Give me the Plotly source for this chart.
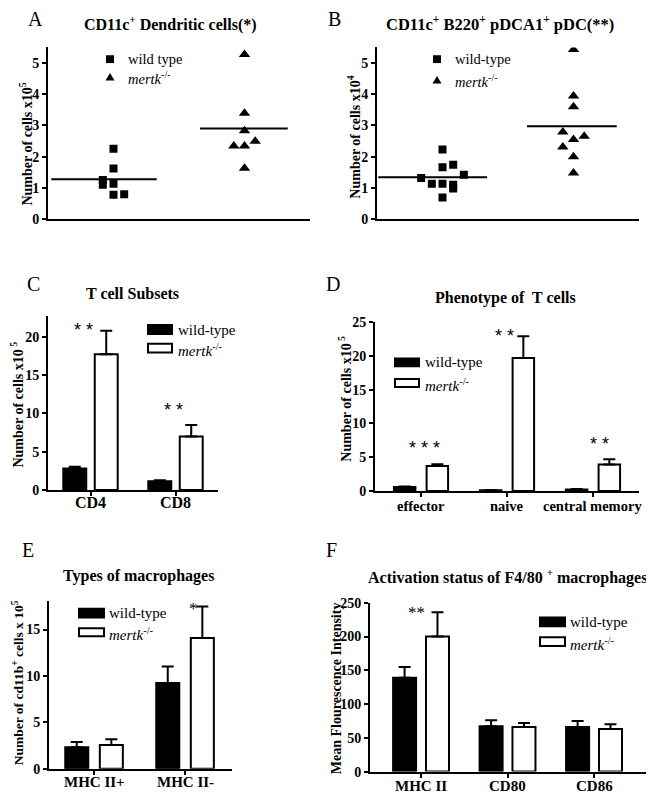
import numpy as np
import plotly.graph_objects as go

# ---------------- data ----------------
# Panel A: CD11c+ dendritic cells (x10^5)
a_wt = [2.25, 1.62, 1.25, 1.10, 1.13, 0.78, 0.80]
a_ko = [5.27, 3.39, 2.83, 2.34, 2.34, 2.49, 1.63]
# Panel B: pDC (x10^4)
b_wt = [2.23, 1.66, 1.74, 1.32, 1.13, 1.13, 1.10, 0.98, 1.42, 0.69]
b_ko = [5.43, 3.94, 3.60, 2.79, 2.55, 2.65, 2.31, 2.00, 1.48]
# Panel C: T cell subsets
c_cats = ["CD4", "CD8"]
c_wt = [2.8, 1.15]
c_wt_err = [0.25, 0.12]
c_ko = [17.75, 7.0]
c_ko_err = [3.05, 1.5]
# Panel D: phenotype of T cells
d_cats = ["effector", "naive", "central memory"]
d_wt = [0.6, 0.12, 0.22]
d_wt_err = [0.06, 0.03, 0.05]
d_ko = [3.7, 19.7, 3.9]
d_ko_err = [0.25, 3.2, 0.8]
# Panel E: types of macrophages
e_cats = ["MHC II+", "MHC II-"]
e_wt = [2.3, 9.25]
e_wt_err = [0.57, 1.78]
e_ko = [2.55, 14.1]
e_ko_err = [0.62, 3.4]
# Panel F: activation status
f_cats = ["MHC II", "CD80", "CD86"]
f_wt = [139, 67, 66]
f_wt_err = [16, 9, 9]
f_ko = [200, 66, 63]
f_ko_err = [36, 6, 7]

# jitter columns for scatter panels (layout only)
a_wt_col = [0, 0, -1, -1, 0, 0, 1]
a_ko_col = [0, 0, 0, -1, 0, 1, 0]
b_wt_col = [0, 0, 1, -2, -1, 0, 1, 1, 2, 0]
b_ko_col = [0, 0, 0, -1, 0, 1, -1, 0, 0]

W, H = 654, 803
PAGE = 8  # default body margin of the html page
SERIF = "Liberation Serif"
SANS = "Liberation Sans"
KO_LABEL = "<i>mertk</i><sup>-/-</sup>"


def px(x):
    return (x - PAGE) / W


def py(y):
    return 1 - (y - PAGE) / H


fig = go.Figure()
annotations = []
shapes = []


def text(x, y, s, size, bold=False, xanchor="center", family=SERIF, angle=0):
    annotations.append(dict(
        x=px(x), y=py(y), xref="paper", yref="paper", text=s, showarrow=False,
        xanchor=xanchor, yanchor="middle", textangle=angle,
        font=dict(family=family, size=size, color="black",
                  weight="bold" if bold else "normal")))


def yaxis_dict(dy, rng, dtick, anchor):
    return dict(domain=[py(dy[0]), py(dy[1])], range=rng, dtick=dtick, tick0=0,
                showline=True, linecolor="black", linewidth=2,
                ticks="outside", ticklen=4, tickwidth=2, tickcolor="black",
                showgrid=False, zeroline=False, anchor=anchor,
                tickfont=dict(family=SERIF, size=14, color="black", weight="bold"))


def xaxis_dict(dx, anchor, rng, show_ticks):
    d = dict(domain=[px(dx[0]), px(dx[1])], range=rng, anchor=anchor,
             showline=True, linecolor="black", linewidth=2, showgrid=False,
             zeroline=False, showticklabels=False)
    if show_ticks:
        d.update(ticks="outside", ticklen=4, tickwidth=2, tickcolor="black")
    else:
        d.update(ticks="")
    return d


layout_axes = {}


def scatter_panel(idx, wt, ko, wt_col, ko_col, wt_line, ko_line, dx, dy, yrng):
    xa = f"x{idx}" if idx > 1 else "x"
    ya = f"y{idx}" if idx > 1 else "y"
    step = 0.163
    fig.add_trace(go.Scatter(
        x=[1 + c * step for c in wt_col], y=wt, mode="markers",
        marker=dict(symbol="square", size=8, color="black"),
        xaxis=xa, yaxis=ya, showlegend=False))
    fig.add_trace(go.Scatter(
        x=[3 + c * step for c in ko_col], y=ko, mode="markers",
        marker=dict(symbol="triangle-up", size=10, color="black"),
        xaxis=xa, yaxis=ya, showlegend=False))
    for xs, vals in ((wt_line, wt), (ko_line, ko)):
        m = float(np.mean(vals))
        fig.add_trace(go.Scatter(x=xs, y=[m, m], mode="lines",
                                 line=dict(color="black", width=2),
                                 xaxis=xa, yaxis=ya, showlegend=False))
    key = "" if idx == 1 else str(idx)
    layout_axes["xaxis" + key] = xaxis_dict(dx, ya, [0, 4], False)
    layout_axes["yaxis" + key] = yaxis_dict(dy, yrng, 1, xa)


def bar_panel(idx, cats, wt, wt_err, ko, ko_err, dx, dy, xrng, yrng, dtick,
              width, off, label_dy, fsize):
    xa = f"x{idx}"
    ya = f"y{idx}"
    for vals, err, fill, o in ((wt, wt_err, "black", -off - width / 2),
                               (ko, ko_err, "white", off - width / 2)):
        fig.add_trace(go.Bar(
            x=cats, y=vals, width=width, offset=o,
            marker=dict(color=fill, line=dict(color="black", width=2)),
            error_y=dict(type="data", array=err, arrayminus=[0] * len(err),
                         symmetric=False, color="black", thickness=2, width=6),
            xaxis=xa, yaxis=ya, showlegend=False))
    layout_axes["xaxis" + str(idx)] = xaxis_dict(dx, ya, xrng, True)
    layout_axes["xaxis" + str(idx)]["type"] = "category"
    layout_axes["yaxis" + str(idx)] = yaxis_dict(dy, yrng, dtick, xa)
    # category labels, placed closer to the axis than Plotly's tick labels
    for i, c in enumerate(cats):
        annotations.append(dict(
            x=i, y=py(dy[0] + label_dy), xref=xa, yref="paper", text=c,
            showarrow=False, xanchor="center", yanchor="middle",
            font=dict(family=SERIF, size=fsize, color="black", weight="bold")))


scatter_panel(1, a_wt, a_ko, a_wt_col, a_ko_col, [0.05, 1.66], [2.32, 3.66],
              (48, 310), (216, 41), [0, 5.5])
scatter_panel(2, b_wt, b_ko, b_wt_col, b_ko_col, [0.02, 1.68], [2.29, 3.66],
              (377, 639), (216, 41), [0, 5.5])
bar_panel(3, c_cats, c_wt, c_wt_err, c_ko, c_ko_err, (48, 218), (492, 315),
          [-0.5, 1.5], [0, 22.7], 5, 0.27, 0.185, 13, 16)
bar_panel(4, d_cats, d_wt, d_wt_err, d_ko, d_ko_err, (375, 639), (493, 321),
          [-0.535, 2.535], [0, 25], 5, 0.25, 0.19, 15, 14.5)
bar_panel(5, e_cats, e_wt, e_wt_err, e_ko, e_ko_err, (49, 232), (776, 605),
          [-0.495, 1.516], [0, 18.1], 5, 0.253, 0.19, 14, 15)
bar_panel(6, f_cats, f_wt, f_wt_err, f_ko, f_ko_err, (370, 652), (779, 607),
          [-0.59, 2.67], [0, 250], 50, 0.266, 0.19, 15, 15)

# ---------- panel letters & titles ----------
for x, y, s in ((35, 12, "A"), (334, 12, "B"), (33, 282, "C"), (333, 282, "D"),
                (28, 553, "E"), (331, 553, "F")):
    text(x, y, s, 20)

text(170, 17, "CD11c<sup>+</sup> Dendritic cells(*)", 16, bold=True)
text(500, 17, "CD11c<sup>+</sup> B220<sup>+</sup> pDCA1<sup>+</sup> pDC(**)", 16.5, bold=True)
text(132, 292, "T cell Subsets", 16, bold=True)
text(505, 296, "Phenotype of  T cells", 16, bold=True)
text(138, 580, "Types of macrophages", 16, bold=True)
text(507, 580, "Activation status of F4/80 <sup>+</sup> macrophages", 16, bold=True)

# ---------- y axis titles ----------
text(26, 140, "Number of cells x10<sup>5</sup>", 14, bold=True, angle=-90)
text(354, 133, "Number of cells x10<sup>4</sup>", 14, bold=True, angle=-90)
text(17, 405, "Number of cells x10<sup> 5</sup>", 14, bold=True, angle=-90)
text(345, 399, "Number of cells x10<sup> 5</sup>", 14, bold=True, angle=-90)
text(18, 689, "Number of cd11b<sup>+</sup> cells x 10<sup>5</sup>", 13.5, bold=True, angle=-90)
text(336, 694, "Mean Flourescence Intensity", 14, bold=True, angle=-90)

# ---------- legends ----------
def sq_marker(cx, cy, s=8):
    shapes.append(dict(type="rect", xref="paper", yref="paper",
                       x0=px(cx - s / 2), x1=px(cx + s / 2), y0=py(cy + s / 2), y1=py(cy - s / 2),
                       fillcolor="black", line=dict(width=0)))


def tri_marker(cx, cy, s=9):
    path = (f"M {px(cx - s / 2)},{py(cy + s * 0.43)} L {px(cx + s / 2)},{py(cy + s * 0.43)} "
            f"L {px(cx)},{py(cy - s * 0.43)} Z")
    shapes.append(dict(type="path", xref="paper", yref="paper", path=path,
                       fillcolor="black", line=dict(width=0)))


def box(x0, x1, y0, y1, fill):
    shapes.append(dict(type="rect", xref="paper", yref="paper",
                       x0=px(x0 + 1), x1=px(x1 - 1), y0=py(y1 - 1), y1=py(y0 + 1),
                       fillcolor=fill, line=dict(color="black", width=2)))


sq_marker(110, 53)
tri_marker(110, 71)
text(126, 53, "wild type", 14.5, xanchor="left")
text(126, 72, KO_LABEL, 14.5, xanchor="left")

sq_marker(437, 53)
tri_marker(437, 74)
text(453, 53, "wild-type", 14.5, xanchor="left")
text(453, 75, KO_LABEL, 14.5, xanchor="left")

for (bx0, bx1, y_wt, y_ko, tx) in ((147, 173, (323, 334), (342, 353), 176),
                                   (394, 420, (357, 367), (378, 388), 423),
                                   (78, 105, (612, 623), (632, 642), 107),
                                   (539, 566, (621, 632), (641, 652), 568)):
    box(bx0, bx1, y_wt[0], y_wt[1], "black")
    box(bx0, bx1, y_ko[0], y_ko[1], "white")
    text(tx, (y_wt[0] + y_wt[1]) / 2, "wild-type", 15, xanchor="left")
    text(tx, (y_ko[0] + y_ko[1]) / 2 + 2, KO_LABEL, 15, xanchor="left")


# ---------- significance stars ----------
def star(xa, ya, cat_x, y, s, family=SANS, size=18):
    annotations.append(dict(x=cat_x, y=y, xref=xa, yref=ya, text=s, showarrow=False,
                            xanchor="center", yanchor="middle",
                            font=dict(family=family, size=size, color="black")))


star("x3", "y3", -0.08, 20.9, "* *")
star("x3", "y3", 0.98, 10.4, "* *")
star("x4", "y4", 0.04, 6.3, "* * *")
star("x4", "y4", 0.97, 23.0, "* *")
star("x4", "y4", 2.08, 6.9, "* *")
star("x5", "y5", 1.09, 17.3, "*", family=SERIF, size=17)
star("x6", "y6", -0.05, 236, "**", family=SERIF, size=17)

fig.update_layout(
    width=W, height=H, margin=dict(l=0, r=0, t=0, b=0),
    paper_bgcolor="white", plot_bgcolor="white",
    barmode="overlay", showlegend=False,
    annotations=annotations, shapes=shapes,
    **layout_axes)

fig.write_html("out.html")
